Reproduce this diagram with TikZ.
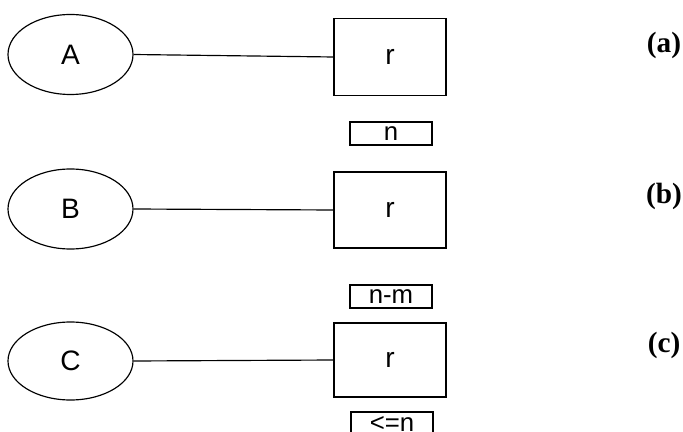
\documentclass[tikz,border=0pt]{standalone}
\usepackage{fontspec}
\setmainfont{Liberation Serif}
\setsansfont{Liberation Sans}
\usetikzlibrary{shapes.geometric}

\begin{document}
\begin{tikzpicture}[x=0.03cm,y=-0.03cm,
  ent/.style={draw,ellipse,line width=1pt,minimum width=3.75cm,minimum height=2.4cm,font=\sffamily\fontsize{24}{28}\selectfont},
  rel/.style={draw,rectangle,line width=1pt,minimum width=3.36cm,minimum height=2.3cm,font=\sffamily\fontsize{24}{28}\selectfont},
  card/.style={draw,rectangle,line width=1pt,minimum width=2.46cm,minimum height=0.69cm,inner sep=0pt,font=\sffamily\fontsize{22}{26}\selectfont},
  tag/.style={font=\bfseries\fontsize{25}{30}\selectfont}]
\useasboundingbox (0,0) rectangle (683,432);
% (a)
\node[ent] (A) at (70.5,54.5) {A};
\node[rel] (ra) at (390,57) {r};
\draw[line width=1pt] (A.east) -- (ra.west);
\node[card] (na) at (391,133.5) {n};
\node[tag] (ta) at (664,45) {(a)};
% (b)
\node[ent,minimum height=2.4cm] (B) at (70.5,209) {B};
\node[rel,minimum height=2.28cm] (rb) at (390,210) {r};
\draw[line width=1pt] (B.east) -- (rb.west);
\node[card] (nb) at (391,296.5) {n-m};
\node[tag] (tb) at (664,196) {(b)};
% (c)
\node[ent,minimum height=2.34cm] (C) at (70.5,361) {C};
\node[rel,minimum height=2.22cm] (rc) at (390,360) {r};
\draw[line width=1pt] (C.east) -- (rc.west);
\node[card] (nc) at (392,423.5) {<=n};
\node[tag] (tc) at (664,345) {(c)};
\end{tikzpicture}
\end{document}
